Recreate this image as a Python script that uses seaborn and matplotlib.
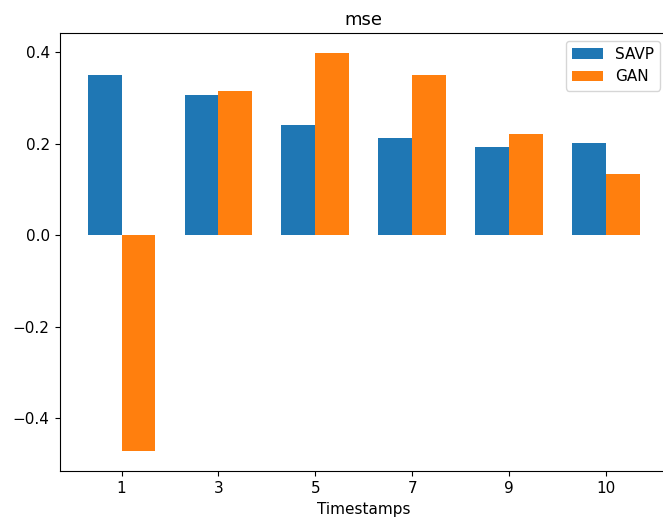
import matplotlib
matplotlib.use("Agg")
import matplotlib.pyplot as plt
import pandas as pd
import seaborn as sns

# Mean squared error per timestamp for the two models
timestamps = ["1", "3", "5", "7", "9", "10"]
savp_mse = [0.350, 0.307, 0.242, 0.212, 0.193, 0.203]
gan_mse = [-0.471, 0.315, 0.399, 0.351, 0.221, 0.135]
models = ["SAVP", "GAN"]
colors = ["#1f77b4", "#ff7f0e"]

df = pd.DataFrame({
    "Timestamps": timestamps * 2,
    "mse": savp_mse + gan_mse,
    "model": [models[0]] * len(timestamps) + [models[1]] * len(timestamps),
})

fig = plt.figure(figsize=(6.63, 5.19), dpi=100)
ax = fig.add_axes([60 / 663, 1 - 470.7 / 519, (667.6 - 60) / 663, (470.7 - 33) / 519])

sns.barplot(data=df, x="Timestamps", y="mse", hue="model", order=timestamps,
            hue_order=models, palette=colors, width=0.7, linewidth=0,
            saturation=1, errorbar=None, ax=ax)

ax.set_xlim(-0.635, len(timestamps) - 1 + 0.635)
ax.margins(y=0.05)
ax.autoscale(axis="y")
ax.set_title("mse", fontsize=13)
ax.set_xlabel("Timestamps", fontsize=11)
ax.set_ylabel("")
ax.tick_params(labelsize=11, length=3.9)

old = ax.get_legend()
handles = old.legend_handles
labels = [t.get_text() for t in old.get_texts()]
old.remove()
ax.legend(handles, labels, loc="upper right", fontsize=11)

fig.savefig("out.png", dpi=100)
